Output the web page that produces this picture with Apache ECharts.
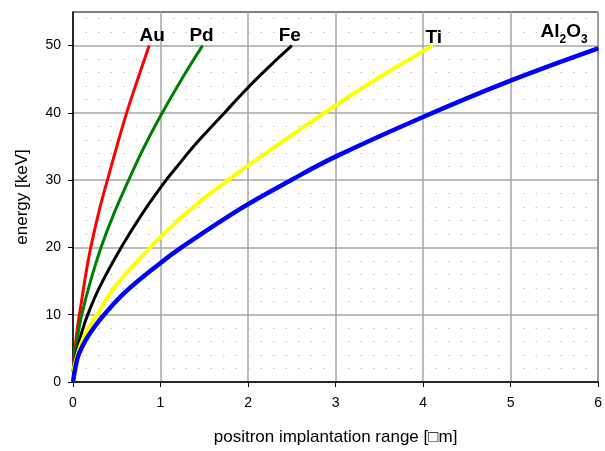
<!DOCTYPE html>
<html>
<head>
<meta charset="utf-8">
<script src="https://cdn.jsdelivr.net/npm/echarts@6/dist/echarts.min.js"></script>
<style>
html,body{margin:0;padding:0;background:#fff;}
#c{width:605px;height:451px;}
</style>
</head>
<body>
<div id="c"></div>
<script>
// ---- data (range in µm, energy in keV) ----
const xTicks = [0, 1, 2, 3, 4, 5, 6];
const yTicks = [0, 10, 20, 30, 40, 50];

const auR = [0, 0.02, 0.05, 0.1, 0.15, 0.2, 0.3, 0.41, 0.5, 0.62, 0.75, 0.87];
const auE = [1.5, 4.5, 8, 12.2, 16.3, 19.8, 25.5, 30.8, 35, 40.3, 45.4, 50];

const pdR = [0, 0.02, 0.05, 0.1, 0.2, 0.32, 0.47, 0.65, 0.8, 1.015, 1.25, 1.48];
const pdE = [1.5, 3.8, 6.6, 10, 15, 20, 25.1, 30.4, 34.6, 39.9, 45.2, 50];

const feR = [0, 0.03, 0.068, 0.11, 0.165, 0.3, 0.56, 0.79, 1.04, 1.2, 1.35, 1.55, 1.73, 1.9, 2.1, 2.3, 2.5];
const feE = [1.5, 3.7, 5.9, 7.8, 9.9, 14, 20.2, 25, 29.6, 32.2, 34.6, 37.5, 40, 42.4, 45.1, 47.6, 50];

const tiR = [0, 0.045, 0.09, 0.167, 0.28, 0.5, 0.9, 1.3, 1.77, 2.5, 3, 3.5, 4.11];
const tiE = [1.5, 3.8, 5.6, 7.8, 10.1, 14.5, 20.2, 25.2, 30, 36.7, 41.1, 45.3, 50];

const alR = [0, 0.027, 0.065, 0.14, 0.24, 0.355, 0.6, 1, 1.24, 1.92, 2.49, 3, 4, 5, 6];
const alE = [0, 2.1, 4.1, 6.1, 8.1, 10, 13.4, 17.7, 20, 25.8, 30, 33.5, 39.4, 44.8, 49.6];

const seriesNames = ['Au', 'Pd', 'Fe', 'Ti', 'Al2O3'];
const seriesColors = ['#ff0000', '#008000', '#000000', '#ffff00', '#0000ff'];
const seriesR = [auR, pdR, feR, tiR, alR];
const seriesE = [auE, pdE, feE, tiE, alE];
const seriesLabels = ['Au', 'Pd', 'Fe', 'Ti', '{a|Al}{s|2}{a|O}{s|3}'];
const lineWidths = [3, 3, 3, 4, 4.5];
const labelOffsets = [[3, 0], [-1, 0], [-2, 0], [1, 2], [-34, -2]];

const FONT = '"Liberation Sans", Arial, sans-serif';

const series = seriesNames.map((nm, i) => {
  const R = seriesR[i], E = seriesE[i];
  const last = R.length - 1;
  return {
    name: nm,
    type: 'line',
    smooth: 0.4,
    showSymbol: true,
    symbol: 'circle',
    symbolSize: 1,
    clip: true,
    data: R.map((r, k) => [r, E[k]]),
    lineStyle: { color: seriesColors[i], width: lineWidths[i] },
    itemStyle: { color: seriesColors[i] },
    label: {
      show: true,
      position: 'top',
      distance: 0,
      offset: labelOffsets[i],
      color: '#000',
      fontFamily: FONT,
      fontSize: 19,
      fontWeight: 'bold',
      formatter: p => (p.dataIndex === last ? seriesLabels[i] : ''),
      rich: {
        a: { fontFamily: FONT, fontSize: 19, fontWeight: 'bold', color: '#000', verticalAlign: 'bottom', padding: [0, 0, 5, 0] },
        s: { fontFamily: FONT, fontSize: 12, fontWeight: 'bold', color: '#000', verticalAlign: 'bottom' }
      }
    },
    emphasis: { disabled: true },
    animation: false,
    z: 3 + i
  };
});

const chart = echarts.init(document.getElementById('c'), null, { renderer: 'canvas' });
chart.setOption({
  backgroundColor: '#ffffff',
  animation: false,
  grid: {
    left: 73, top: 12, right: 2, bottom: 68,
    show: true, borderColor: '#000', borderWidth: 1, backgroundColor: 'transparent'
  },
  xAxis: {
    type: 'value',
    min: xTicks[0], max: xTicks[xTicks.length - 1], interval: 1,
    name: 'positron implantation range [\u25A1m]',
    nameLocation: 'middle',
    nameGap: 47,
    nameTextStyle: { fontFamily: FONT, fontSize: 17, color: '#000' },
    axisLine: { show: true, onZero: false, lineStyle: { color: '#000', width: 1.5 } },
    axisTick: { show: true, length: 5, inside: false, lineStyle: { color: '#000' } },
    axisLabel: { fontFamily: FONT, fontSize: 14, color: '#000', margin: 14 },
    splitLine: { show: true, lineStyle: { color: '#a6a6a6', width: 1.5 } },
    minorTick: { show: false },
    minorSplitLine: { show: false }
  },
  yAxis: {
    type: 'value',
    min: 0, max: 55, interval: 10,
    name: 'energy [keV]',
    nameLocation: 'middle',
    nameGap: 42,
    nameTextStyle: { fontFamily: FONT, fontSize: 17, color: '#000' },
    axisLine: { show: true, onZero: false, lineStyle: { color: '#000', width: 1.5 } },
    axisTick: { show: true, length: 5, lineStyle: { color: '#000' }, customValues: yTicks },
    axisLabel: { fontFamily: FONT, fontSize: 14, color: '#000', margin: 12, customValues: yTicks },
    splitLine: { show: true, lineStyle: { color: '#a6a6a6', width: 1.5 } },
    minorTick: { show: false, splitNumber: 5 },
    minorSplitLine: { show: true, lineStyle: { color: '#bdbdbd', width: 1, type: [1.5, 11] } }
  },
  series: series
});
</script>
</body>
</html>
